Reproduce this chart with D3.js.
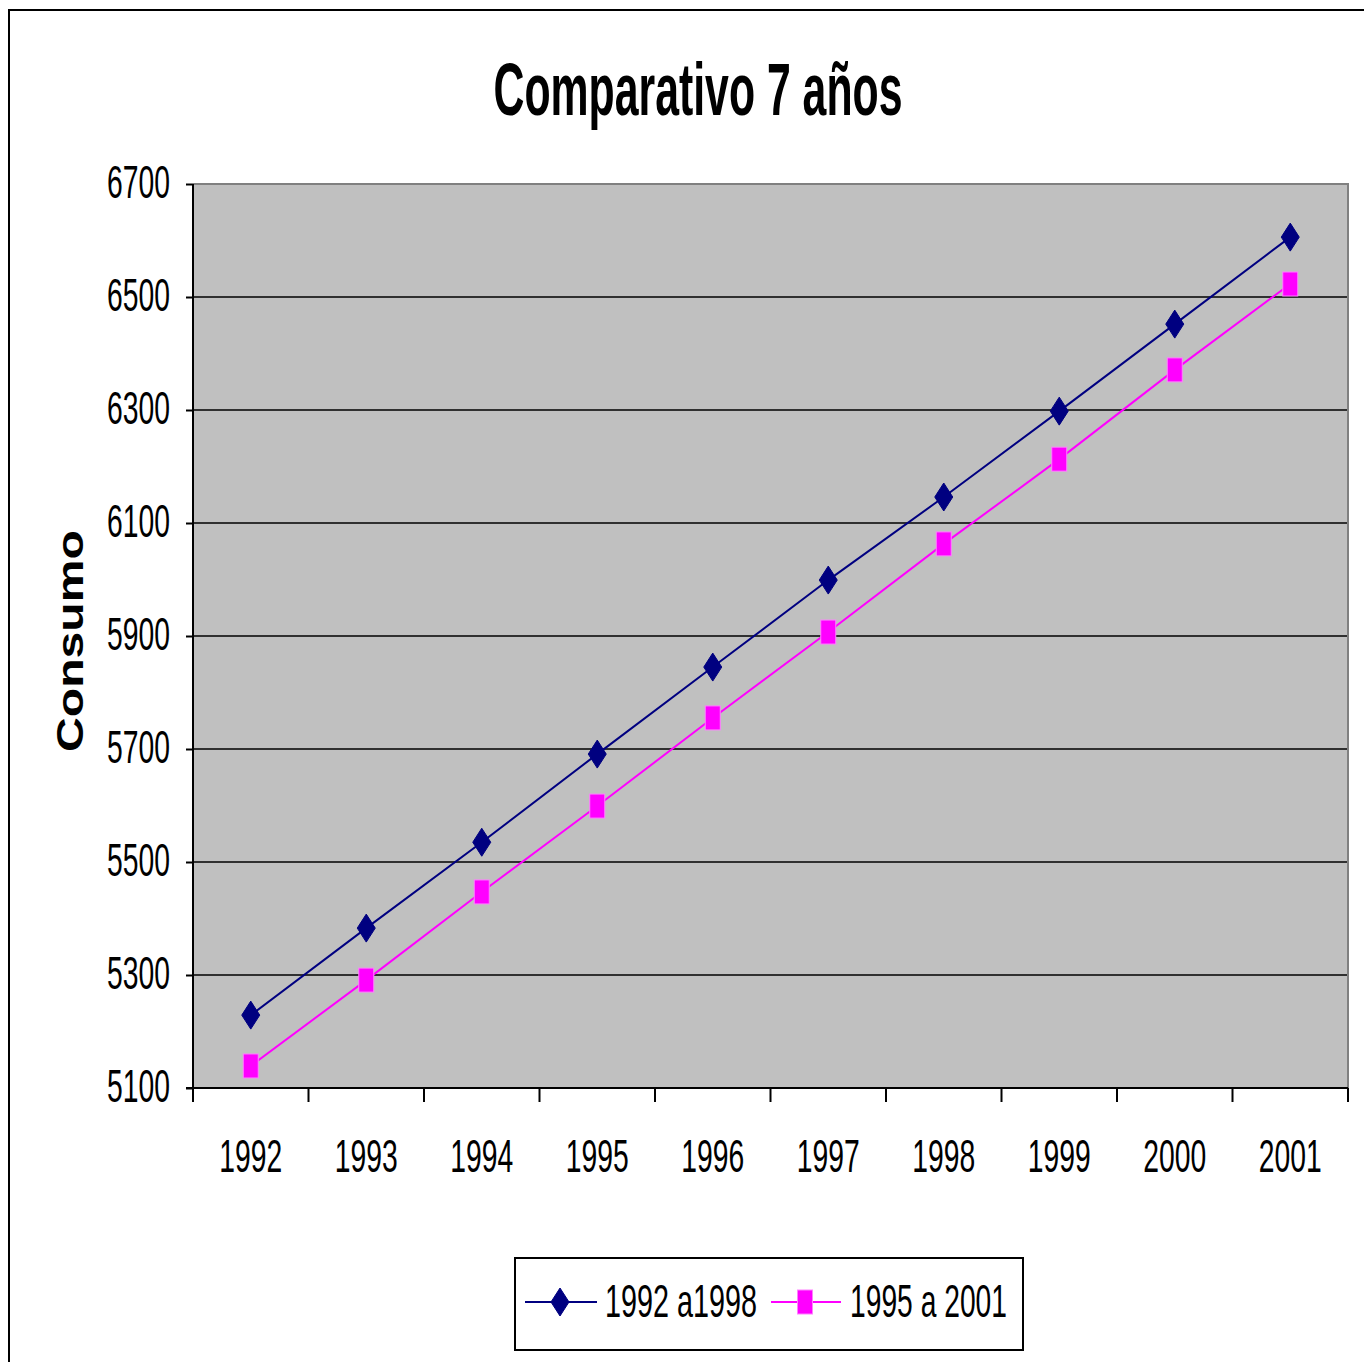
<!DOCTYPE html>
<html>
<head>
<meta charset="utf-8">
<script src="https://cdn.jsdelivr.net/npm/d3@7"></script>
<style>
  body { margin: 0; background: #fff; }
  text { font-family: "Liberation Sans", Arial, sans-serif; fill: #000; }
</style>
</head>
<body>
<div id="chart1"></div>
<script>
var years = ["1992","1993","1994","1995","1996","1997","1998","1999","2000","2001"];
var serie1 = [5229, 5383, 5535, 5691, 5845, 5999, 6146, 6298, 6452, 6606];
var serie2 = [5139, 5291, 5447, 5599, 5755, 5907, 6063, 6213, 6371, 6523];
var yTicks = [5100, 5300, 5500, 5700, 5900, 6100, 6300, 6500, 6700];
var names = ["1992 a1998", "1995 a 2001"];

var W = 1364, H = 1362;
var margin = { top: 184, right: 16, bottom: 274, left: 193 },
    width = W - margin.left - margin.right,
    height = H - margin.top - margin.bottom;

var svg = d3.select("#chart1").append("svg")
  .attr("width", W)
  .attr("height", H);

// outer frame (only left and top visible)
svg.append("path")
  .attr("d", "M9," + H + "V10H" + W)
  .attr("fill", "none")
  .attr("stroke", "#000")
  .attr("stroke-width", 2);

var x = d3.scaleBand().domain(years).range([0, width]).padding(0);
var y = d3.scaleLinear().domain([5100, 6700]).range([height, 0]);

var chart = svg.append("g")
  .attr("transform", "translate(" + margin.left + "," + margin.top + ")");

chart.append("rect")
  .attr("width", width)
  .attr("height", height)
  .attr("fill", "#c0c0c0");

// gridlines
chart.selectAll(".grid")
  .data(yTicks.filter(function(d){ return d > 5100 && d < 6700; }))
  .enter().append("line")
  .attr("x1", 0).attr("x2", width)
  .attr("y1", function(d){ return y(d); })
  .attr("y2", function(d){ return y(d); })
  .attr("stroke", "#000")
  .attr("stroke-width", 1.5);

// top and right border of plot area
chart.append("path")
  .attr("d", "M0," + y(6700) + "H" + width + "V" + height)
  .attr("fill", "none")
  .attr("stroke", "#808080")
  .attr("stroke-width", 2);

// y axis
var yAxis = chart.append("g")
  .call(d3.axisLeft(y).tickValues(yTicks).tickSize(7).tickFormat(d3.format("d")));
yAxis.select(".domain").attr("stroke", "#000").attr("stroke-width", 2)
  .attr("d", "M0,0V" + height);
yAxis.selectAll(".tick line").attr("stroke", "#000").attr("stroke-width", 2);
yAxis.selectAll(".tick text")
  .attr("font-family", "Liberation Sans, Arial, sans-serif")
  .attr("font-size", 46)
  .attr("x", -23)
  .attr("dy", "0.29em")
  .attr("textLength", 63)
  .attr("lengthAdjust", "spacingAndGlyphs");

// x axis
var xAxis = chart.append("g")
  .attr("transform", "translate(0," + height + ")")
  .call(d3.axisBottom(x).tickSize(0));
xAxis.select(".domain").attr("stroke", "#000").attr("stroke-width", 2)
  .attr("d", "M-7,0H" + width);
xAxis.selectAll(".tick text")
  .attr("font-family", "Liberation Sans, Arial, sans-serif")
  .attr("font-size", 46)
  .attr("y", 84)
  .attr("dy", 0)
  .attr("textLength", 63)
  .attr("lengthAdjust", "spacingAndGlyphs");

var bounds = years.map(function(d){ return x(d); }).concat([width]);
xAxis.selectAll(".btick")
  .data(bounds)
  .enter().append("line")
  .attr("x1", function(d){ return d; })
  .attr("x2", function(d){ return d; })
  .attr("y1", 0).attr("y2", 14)
  .attr("stroke", "#000")
  .attr("stroke-width", 2);

var cx = function(d, i){ return x(years[i]) + x.bandwidth() / 2; };

var line = d3.line()
  .x(function(d, i){ return cx(d, i); })
  .y(function(d){ return y(d); });

chart.append("path")
  .datum(serie1)
  .attr("d", line)
  .attr("fill", "none")
  .attr("stroke", "#000080")
  .attr("stroke-width", 2);

chart.append("path")
  .datum(serie2)
  .attr("d", line)
  .attr("fill", "none")
  .attr("stroke", "#ff00ff")
  .attr("stroke-width", 2);

function diamond(g, px, py) {
  g.append("path")
    .attr("d", "M" + px + "," + (py - 14) + "L" + (px + 9) + "," + py + "L" + px + "," + (py + 14) + "L" + (px - 9) + "," + py + "Z")
    .attr("fill", "#000080")
    .attr("stroke", "#000080")
    .attr("stroke-width", 1);
}
function square(g, px, py) {
  g.append("rect")
    .attr("x", px - 7.5).attr("y", py - 12)
    .attr("width", 15).attr("height", 24)
    .attr("fill", "#ff00ff")
    .attr("stroke", "#ff80ff")
    .attr("stroke-width", 1);
}

serie1.forEach(function(d, i){ diamond(chart, cx(d, i), y(d)); });
serie2.forEach(function(d, i){ square(chart, cx(d, i), y(d)); });

// title
svg.append("text")
  .attr("x", 698)
  .attr("y", 115)
  .attr("text-anchor", "middle")
  .attr("font-size", 74)
  .attr("font-weight", "bold")
  .attr("textLength", 409)
  .attr("lengthAdjust", "spacingAndGlyphs")
  .text("Comparativo 7 años");

// y axis title
svg.append("text")
  .attr("transform", "translate(83,641) rotate(-90)")
  .attr("text-anchor", "middle")
  .attr("font-size", 37)
  .attr("font-weight", "bold")
  .attr("textLength", 222)
  .attr("lengthAdjust", "spacingAndGlyphs")
  .text("Consumo");

// legend
var legend = svg.append("g");
legend.append("rect")
  .attr("x", 515).attr("y", 1258)
  .attr("width", 508).attr("height", 92)
  .attr("fill", "#fff")
  .attr("stroke", "#000")
  .attr("stroke-width", 2);

var ly = 1302;
legend.append("line")
  .attr("x1", 525).attr("x2", 597).attr("y1", ly).attr("y2", ly)
  .attr("stroke", "#000080").attr("stroke-width", 2);
diamond(legend, 560, ly);
legend.append("text")
  .attr("x", 605).attr("y", 1317)
  .attr("font-size", 46)
  .attr("textLength", 152)
  .attr("lengthAdjust", "spacingAndGlyphs")
  .text(names[0]);

legend.append("line")
  .attr("x1", 771).attr("x2", 841).attr("y1", ly).attr("y2", ly)
  .attr("stroke", "#ff00ff").attr("stroke-width", 2);
square(legend, 805, ly);
legend.append("text")
  .attr("x", 850).attr("y", 1317)
  .attr("font-size", 46)
  .attr("textLength", 157)
  .attr("lengthAdjust", "spacingAndGlyphs")
  .text(names[1]);
</script>
</body>
</html>
